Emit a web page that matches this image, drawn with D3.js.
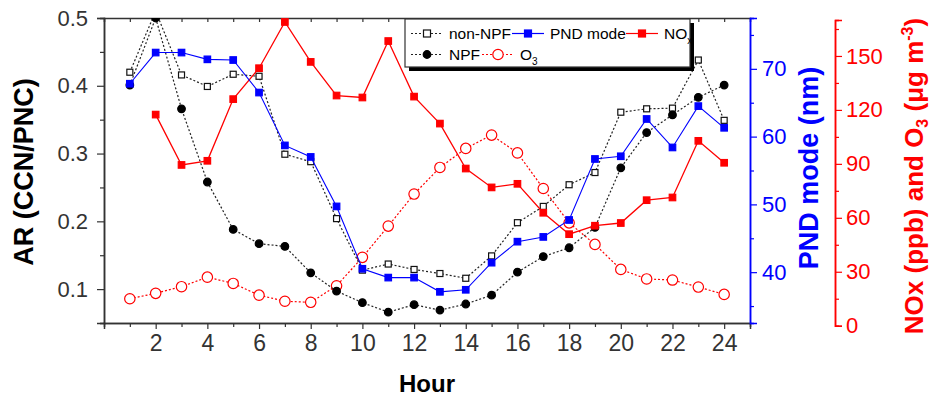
<!DOCTYPE html>
<html>
<head>
<meta charset="utf-8">
<script src="https://d3js.org/d3.v7.min.js"></script>
<style>
  body { margin: 0; background: #fff; }
  text { font-family: Arial, "Liberation Sans", sans-serif; }
</style>
</head>
<body>
<div id="chart"></div>
<script>
var hours  = [1,2,3,4,5,6,7,8,9,10,11,12,13,14,15,16,17,18,19,20,21,22,23,24];
var nonNPF = [0.420,0.510,0.416,0.399,0.417,0.414,0.299,0.288,0.204,0.128,0.137,0.129,
              0.123,0.116,0.149,0.198,0.222,0.254,0.272,0.361,0.366,0.367,0.438,0.349];
var npf    = [0.401,0.500,0.366,0.258,0.188,0.167,0.163,0.124,0.097,0.080,0.066,0.077,
              0.069,0.078,0.091,0.125,0.148,0.161,0.191,0.279,0.331,0.357,0.383,0.401];
var pnd    = [67.8,72.4,72.4,71.4,71.3,66.5,58.7,57.0,49.7,40.5,39.2,39.2,
              37.1,37.4,41.4,44.5,45.2,47.7,56.7,57.1,62.6,58.4,64.5,61.3];
var nox    = [null,117.4,89.4,91.7,126.0,143.2,168.9,146.7,128.0,126.9,158.3,127.4,
              112.4,87.4,76.9,78.9,62.8,50.9,55.6,57.1,69.8,71.3,102.8,90.6];
var o3     = [15.0,18.0,21.7,27.0,23.5,17.0,13.6,13.0,22.2,38.0,55.4,73.2,
              88.0,98.6,106.0,96.1,76.3,57.2,45.2,31.3,26.0,25.4,21.5,17.4];

var xTicks   = [2,4,6,8,10,12,14,16,18,20,22,24];
var arTicks  = [0.1,0.2,0.3,0.4,0.5];
var pndTicks = [40,50,60,70];
var redTicks = [0,30,60,90,120,150];

var W = 932, H = 398;
var m = {l: 104, t: 18, r: 750, b: 323};

var svg = d3.select("#chart").append("svg").attr("width", W).attr("height", H);

var x  = d3.scaleLinear().domain([0, 25]).range([m.l, m.r]);
var yL = d3.scaleLinear().domain([0.05, 0.5]).range([m.b, m.t]);
var yB = d3.scaleLinear().domain([32.5, 77.5]).range([m.b, m.t]);
var yR = d3.scaleLinear().domain([0, 170]).range([325.7, 20]);

svg.append("defs").append("clipPath").attr("id", "clip")
  .append("rect").attr("x", m.l).attr("y", m.t)
  .attr("width", m.r - m.l).attr("height", m.b - m.t);

function styleAxis(g, col, size) {
  g.select(".domain").attr("stroke", col).attr("stroke-width", 1.5);
  g.selectAll(".tick line").attr("stroke", col).attr("stroke-width", 1.2);
  g.selectAll(".tick text").attr("fill", col).style("font-size", size + "px");
}

// bottom axis
var oddHours = hours.filter(function(h){ return h % 2; });
svg.append("g").attr("transform", "translate(0," + m.b + ")")
  .call(d3.axisBottom(x).tickValues(oddHours).tickSize(4).tickFormat(""))
  .call(styleAxis, "#333", 22);
svg.append("g").attr("transform", "translate(0," + m.b + ")")
  .call(d3.axisBottom(x).tickValues(xTicks).tickSize(6).tickPadding(6))
  .call(styleAxis, "#333", 23);
// top frame with inner ticks
svg.append("g").attr("transform", "translate(0," + m.t + ")")
  .call(d3.axisBottom(x).tickValues(hours).tickSize(4).tickFormat(""))
  .call(styleAxis, "#333", 20);

// left axis
svg.append("g").attr("transform", "translate(" + m.l + ",0)")
  .call(d3.axisLeft(yL).tickValues([0.05,0.15,0.25,0.35,0.45]).tickSize(4).tickFormat(""))
  .call(styleAxis, "#333", 20);
svg.append("g").attr("transform", "translate(" + m.l + ",0)")
  .call(d3.axisLeft(yL).tickValues(arTicks).tickSize(7).tickPadding(9).tickFormat(d3.format(".1f")))
  .call(styleAxis, "#333", 22);

// blue right axis
svg.append("g").attr("transform", "translate(" + m.r + ",0)")
  .call(d3.axisRight(yB).tickValues([35,45,55,65,75]).tickSize(4).tickFormat(""))
  .call(styleAxis, "#0000ff", 20);
svg.append("g").attr("transform", "translate(" + m.r + ",0)")
  .call(d3.axisRight(yB).tickValues(pndTicks).tickSize(7).tickPadding(5))
  .call(styleAxis, "#0000ff", 22);

// red right axis
var redX = 835;
svg.append("g").attr("transform", "translate(" + redX + ",0)")
  .call(d3.axisRight(yR).tickValues([15,45,75,105,135,165]).tickSize(4).tickFormat(""))
  .call(styleAxis, "#ff0000", 20);
svg.append("g").attr("transform", "translate(" + redX + ",0)")
  .call(d3.axisRight(yR).tickValues(redTicks).tickSize(7).tickPadding(4))
  .call(styleAxis, "#ff0000", 22);

// series
var plot = svg.append("g").attr("clip-path", "url(#clip)");

function drawLine(vals, ys, col, dash, w) {
  var line = d3.line()
    .defined(function(d){ return d != null; })
    .x(function(d, i){ return x(hours[i]); })
    .y(function(d){ return ys(d); });
  plot.append("path").datum(vals)
    .attr("fill", "none").attr("stroke", col).attr("stroke-width", w)
    .attr("stroke-dasharray", dash).attr("d", line);
}
function drawSquares(vals, ys, fill, stroke, s) {
  plot.append("g").selectAll("rect")
    .data(vals.map(function(v, i){ return [hours[i], v]; }).filter(function(d){ return d[1] != null; }))
    .enter().append("rect")
    .attr("x", function(d){ return x(d[0]) - s / 2; })
    .attr("y", function(d){ return ys(d[1]) - s / 2; })
    .attr("width", s).attr("height", s)
    .attr("fill", fill).attr("stroke", stroke).attr("stroke-width", 1.2);
}
function drawCircles(vals, ys, fill, stroke, r) {
  plot.append("g").selectAll("circle")
    .data(vals.map(function(v, i){ return [hours[i], v]; }))
    .enter().append("circle")
    .attr("cx", function(d){ return x(d[0]); })
    .attr("cy", function(d){ return ys(d[1]); })
    .attr("r", r)
    .attr("fill", fill).attr("stroke", stroke).attr("stroke-width", 1.2);
}

drawLine(o3, yR, "#ff0000", "2,2", 1.2);
drawCircles(o3, yR, "#fff", "#ff0000", 5.2);
drawLine(nonNPF, yL, "#222", "2,2", 1.2);
drawLine(npf, yL, "#222", "2,2", 1.2);
drawSquares(nonNPF, yL, "#fff", "#111", 6);
drawCircles(npf, yL, "#000", "#000", 3.8);
drawLine(nox, yR, "#ff0000", null, 1.3);
drawSquares(nox, yR, "#ff0000", "#ff0000", 6.5);
drawLine(pnd, yB, "#0000ff", null, 1.1);
drawSquares(pnd, yB, "#0000ff", "#0000ff", 6.5);

// legend
var lg = svg.append("g");
lg.append("rect").attr("x", 409).attr("y", 23).attr("width", 285).attr("height", 48).attr("fill", "#000");
lg.append("rect").attr("x", 405).attr("y", 19).attr("width", 285).attr("height", 48)
  .attr("fill", "#fff").attr("stroke", "#333").attr("stroke-width", 1.2);

function legItem(x0, yy, col, dash, marker, fill, label, sub) {
  lg.append("line").attr("x1", x0).attr("x2", x0 + 32).attr("y1", yy).attr("y2", yy)
    .attr("stroke", col).attr("stroke-width", 1.2).attr("stroke-dasharray", dash);
  if (marker === "sq") {
    lg.append("rect").attr("x", x0 + 16 - 3.5).attr("y", yy - 3.5).attr("width", 7).attr("height", 7)
      .attr("fill", fill).attr("stroke", fill === "#fff" ? "#111" : fill).attr("stroke-width", 1.2);
  } else {
    lg.append("circle").attr("cx", x0 + 16).attr("cy", yy).attr("r", marker === "big" ? 5.2 : 3.8)
      .attr("fill", fill).attr("stroke", col === "#222" ? "#000" : col).attr("stroke-width", 1.2);
  }
  var t = lg.append("text").attr("x", x0 + 38).attr("y", yy + 5.5)
    .style("font-size", "15.5px").attr("fill", "#000").text(label);
  if (sub) t.append("tspan").attr("dy", 5).style("font-size", "10px").text(sub);
}
legItem(411, 33.5, "#222", "2,2", "sq", "#fff", "non-NPF");
legItem(512, 33.5, "#0000ff", null, "sq", "#0000ff", "PND mode");
legItem(626, 33.5, "#ff0000", null, "sq", "#ff0000", "NO", "x");
legItem(411, 54.5, "#222", "2,2", "dot", "#000", "NPF");
legItem(482, 54.5, "#ff0000", "2,2", "big", "#fff", "O", "3");

// axis titles
svg.append("text").attr("transform", "translate(33,172) rotate(-90)")
  .attr("text-anchor", "middle").style("font-size", "27px").style("font-weight", "bold")
  .attr("fill", "#000").text("AR (CCN/PNC)");
svg.append("text").attr("transform", "translate(818,168) rotate(-90)")
  .attr("text-anchor", "middle").style("font-size", "27px").style("font-weight", "bold")
  .attr("fill", "#0000ff").text("PND mode (nm)");
var rt = svg.append("text").attr("transform", "translate(923,176) rotate(-90)")
  .attr("text-anchor", "middle").style("font-size", "26px").style("font-weight", "bold")
  .attr("fill", "#ff0000");
rt.append("tspan").text("NOx (ppb) and O");
rt.append("tspan").attr("dy", 5).style("font-size", "16px").text("3");
rt.append("tspan").attr("dy", -5).text(" (\u03bcg m");
rt.append("tspan").attr("dy", -10).style("font-size", "16px").text("-3");
rt.append("tspan").attr("dy", 10).text(")");
svg.append("text").attr("x", 427).attr("y", 392)
  .attr("text-anchor", "middle").style("font-size", "24px").style("font-weight", "bold")
  .attr("fill", "#000").text("Hour");
</script>
</body>
</html>
